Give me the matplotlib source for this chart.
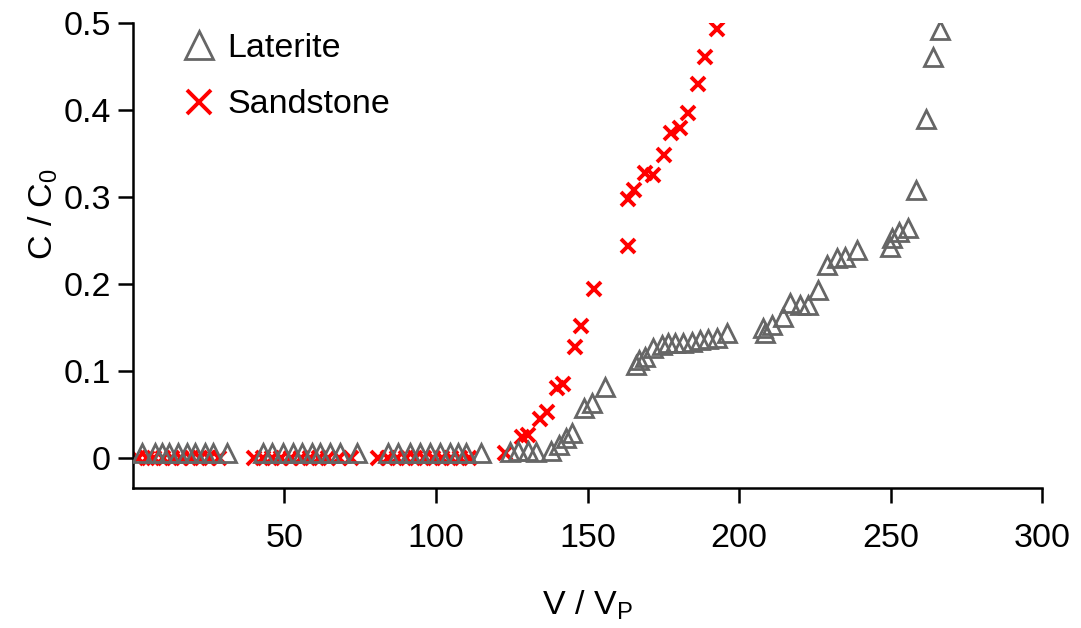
import numpy as np
import matplotlib.pyplot as plt

plt.rcParams['font.family'] = ['Liberation Sans', 'DejaVu Sans']
plt.rcParams['mathtext.fontset'] = 'custom'
plt.rcParams['mathtext.rm'] = 'Liberation Sans'

# breakthrough curves, C/C0 against pore volumes
laterite_v = [3, 7.3, 9.6, 12, 14.8, 17.8, 20.5, 23.8, 26.4, 31,
              43, 46, 49.5, 52.8, 55.8, 59, 61.7, 65, 68.3, 74,
              84, 87.5, 91.4, 94.7, 98, 101.3, 104.6, 107.3, 110, 115,
              124.4, 127, 130.5, 133, 138, 140.5, 143, 145, 149, 151.5,
              155.8, 166, 167, 169, 171.6, 174.6, 176.6, 178.9, 181.5, 184.5,
              187, 189.8, 192.7, 196, 208, 208.6, 211, 214.5, 216.8, 220,
              222.8, 226, 229, 232.3, 235, 239, 249.8, 250.5, 252.8, 255.8,
              258.4, 261.7, 264, 266.3]
laterite_c = [0.006] * 30 + [
              0.007, 0.008, 0.008, 0.007, 0.008, 0.015, 0.023, 0.029, 0.057, 0.063,
              0.082, 0.107, 0.113, 0.116, 0.126, 0.130, 0.132, 0.132, 0.132, 0.133,
              0.136, 0.137, 0.138, 0.144, 0.149, 0.144, 0.153, 0.162, 0.178, 0.176,
              0.176, 0.193, 0.222, 0.230, 0.231, 0.239, 0.243, 0.253, 0.260, 0.264,
              0.308, 0.390, 0.461, 0.492]

sandstone_v = [1.5, 4.5, 7, 10, 13, 16, 19, 22, 25, 28.5,
               40, 43, 46, 49, 52, 55.5, 58.5, 61.5, 64.5, 68, 72,
               81, 84, 87, 90, 93, 96, 99, 102, 105, 108, 111,
               122.8, 128.4, 130.4, 134.3, 136.6, 140, 142, 146, 148, 152,
               163.4, 163.5, 165.5, 169, 171.6, 175.2, 177.6, 180.5, 183, 186.5,
               188.8, 192.7]
sandstone_c = [0.0] * 32 + [
               0.006, 0.024, 0.026, 0.045, 0.053, 0.080, 0.085, 0.128, 0.152, 0.194,
               0.244, 0.298, 0.308, 0.328, 0.325, 0.349, 0.374, 0.379, 0.397, 0.430,
               0.461, 0.493]

fig = plt.figure(figsize=(10.81, 6.28), dpi=100)
ax = fig.add_axes([0.123, 0.223, 0.841, 0.740])

ax.plot(sandstone_v, sandstone_c, linestyle='none', marker='x', markersize=10.5,
        markeredgewidth=2.8, color='#ff0000', label='Sandstone', zorder=2)
ax.plot(laterite_v, laterite_c, linestyle='none', marker='^', markersize=13,
        markerfacecolor='none', markeredgewidth=2.0, markeredgecolor='#666666',
        label='Laterite', zorder=3)

ax.set_xlim(0, 300)
ax.set_ylim(-0.0345, 0.5)
ax.set_xticks([50, 100, 150, 200, 250, 300])
ax.set_yticks([0, 0.1, 0.2, 0.3, 0.4, 0.5])
ax.set_yticklabels(['0', '0.1', '0.2', '0.3', '0.4', '0.5'])

for side in ['top', 'right']:
    ax.spines[side].set_visible(False)
for side in ['left', 'bottom']:
    ax.spines[side].set_linewidth(1.8)

ax.tick_params(axis='both', direction='out', length=11, width=1.8, labelsize=24.5)
ax.tick_params(axis='x', pad=14)
ax.tick_params(axis='y', pad=5)

ax.set_xlabel(r'V / V$_\mathrm{P}$', fontsize=24.5)
ax.set_ylabel(r'C / C$_\mathrm{0}$', fontsize=24.5)
ax.xaxis.set_label_coords(0.5, -0.215)
ax.yaxis.set_label_coords(-0.08, 0.59)

handles, labels = ax.get_legend_handles_labels()
ax.legend(handles[::-1], labels[::-1], loc='upper left', frameon=False,
          fontsize=24.5, markerscale=1.6, handlelength=1.0, handletextpad=0.35,
          labelspacing=0.75, bbox_to_anchor=(0.02, 1.045))

fig.savefig('out.png', dpi=100)
